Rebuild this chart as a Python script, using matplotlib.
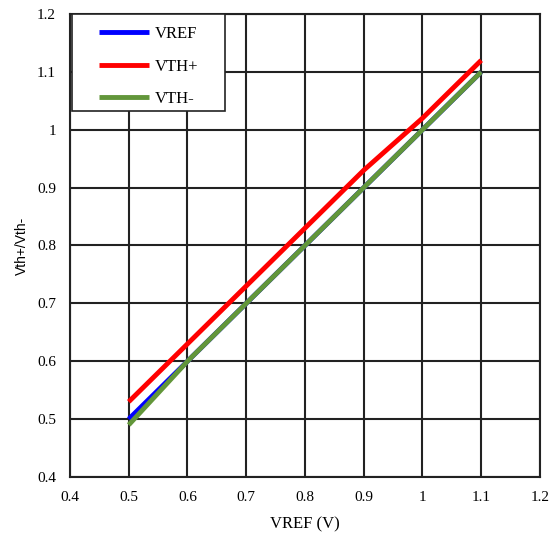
import numpy as np
import matplotlib.pyplot as plt
from matplotlib.patches import Rectangle

# Data
vref = [0.5, 0.6, 0.7, 0.8, 0.9, 1.0, 1.1]
vref_line = [0.50, 0.60, 0.70, 0.80, 0.90, 1.00, 1.10]
vth_plus = [0.53, 0.63, 0.73, 0.83, 0.93, 1.02, 1.12]
vth_minus = [0.49, 0.60, 0.70, 0.80, 0.90, 1.00, 1.10]

ticks = [0.4, 0.5, 0.6, 0.7, 0.8, 0.9, 1.0, 1.1, 1.2]
tick_labels = ['0.4', '0.5', '0.6', '0.7', '0.8', '0.9', '1', '1.1', '1.2']

serif = 'Liberation Serif'

fig = plt.figure(figsize=(5.51, 5.38), dpi=100)
ax = fig.add_axes([0.127, 0.1134, 0.853, 0.8606])

ax.plot(vref, vref_line, color='#0000ff', lw=3.5, label='VREF', solid_capstyle='butt')
ax.plot(vref, vth_plus, color='#ff0000', lw=3.5, label='VTH+', solid_capstyle='butt')
ax.plot(vref, vth_minus, color='#62963a', lw=3.5, label='VTH-', solid_capstyle='butt')

ax.set_xlim(0.4, 1.2)
ax.set_ylim(0.4, 1.2)
ax.set_xticks(ticks)
ax.set_yticks(ticks)
ax.set_xticklabels(tick_labels, fontfamily=serif, fontsize=11)
ax.set_yticklabels(tick_labels, fontfamily=serif, fontsize=11)
ax.tick_params(axis='x', length=0, pad=10)
ax.tick_params(axis='y', length=0, pad=10)
ax.grid(True, color='#222222', lw=1.5)
ax.set_axisbelow(True)
for s in ax.spines.values():
    s.set_color('#222222')
    s.set_linewidth(1.5)

ax.set_xlabel('VREF (V)', fontfamily=serif, fontsize=12, labelpad=9)
ax.set_ylabel('Vth+/Vth-', fontfamily='Liberation Sans', fontsize=10, labelpad=6)

# legend box drawn separately so its padding matches the reference
box = Rectangle((0.004, 0.79), 0.326, 0.21, transform=ax.transAxes,
                facecolor='white', edgecolor='#222222', lw=1.2, zorder=4)
ax.add_patch(box)
leg = ax.legend(loc='upper left', bbox_to_anchor=(0.052, 0.985), borderaxespad=0,
                frameon=False, prop={'family': serif, 'size': 12},
                handlelength=3.0, labelspacing=1.0, borderpad=0.3,
                handletextpad=0.3)
leg.set_zorder(5)

fig.savefig('out.png', dpi=100)
